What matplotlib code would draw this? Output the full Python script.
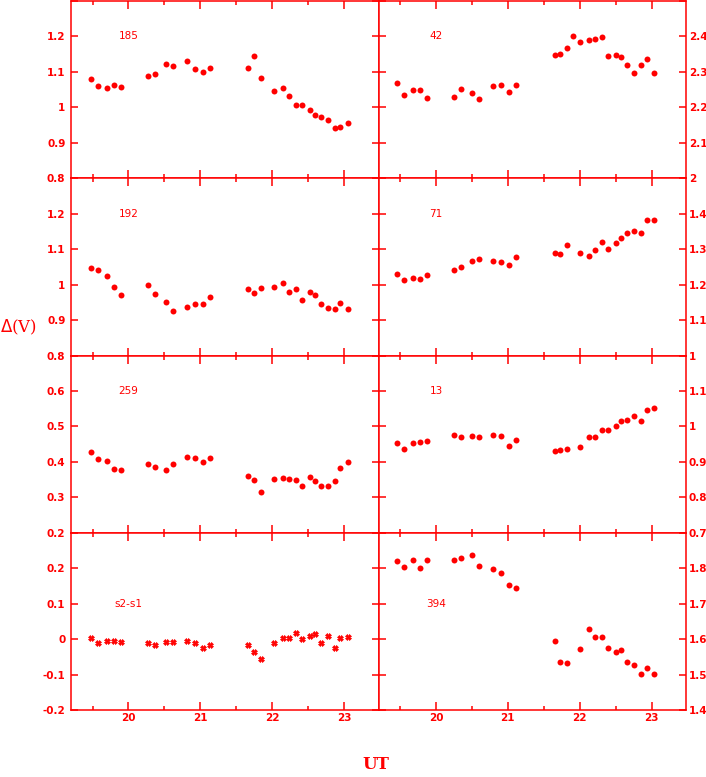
import numpy as np
import matplotlib
matplotlib.use('Agg')
import matplotlib.pyplot as plt
from matplotlib.ticker import MultipleLocator, FuncFormatter

RED = '#ff0000'

# observation times (UT hours)
t_left = [19.48, 19.58, 19.70, 19.80, 19.90, 20.27, 20.37, 20.52, 20.62, 20.82, 20.92, 21.03, 21.13,
          21.67, 21.75, 21.85, 22.03, 22.15, 22.23, 22.33, 22.42, 22.52, 22.60, 22.68, 22.78, 22.87,
          22.95, 23.05]
t_right = [19.46, 19.56, 19.68, 19.78, 19.88, 20.25, 20.35, 20.50, 20.60, 20.80, 20.90, 21.01, 21.11,
           21.65, 21.73, 21.82, 22.01, 22.13, 22.21, 22.31, 22.40, 22.50, 22.58, 22.66, 22.76, 22.85,
           22.93, 23.03]
t_42 = t_right[:16] + [21.91] + t_right[16:]
t_42 = sorted(t_42)

# star 185, 192, 259, s2-s1 (left column)
v185 = [1.081, 1.059, 1.056, 1.064, 1.058, 1.088, 1.095, 1.123, 1.117, 1.131, 1.108, 1.101, 1.110,
        1.112, 1.144, 1.082, 1.046, 1.056, 1.032, 1.006, 1.006, 0.992, 0.978, 0.973, 0.964, 0.943,
        0.945, 0.956]
v192 = [1.048, 1.042, 1.025, 0.993, 0.970, 0.999, 0.974, 0.950, 0.925, 0.937, 0.944, 0.946, 0.965,
        0.987, 0.976, 0.991, 0.992, 1.004, 0.980, 0.988, 0.957, 0.978, 0.971, 0.945, 0.934, 0.930,
        0.947, 0.931]
v259 = [0.428, 0.407, 0.403, 0.380, 0.378, 0.395, 0.385, 0.376, 0.395, 0.414, 0.412, 0.401, 0.410,
        0.359, 0.348, 0.315, 0.352, 0.354, 0.353, 0.349, 0.331, 0.357, 0.346, 0.331, 0.331, 0.346,
        0.383, 0.401]
vs2s1 = [0.002, -0.011, -0.006, -0.004, -0.009, -0.012, -0.016, -0.009, -0.007, -0.005, -0.012, -0.026,
         -0.017, -0.017, -0.036, -0.055, -0.010, 0.002, 0.004, 0.016, 0.001, 0.010, 0.014, -0.012,
         0.009, -0.026, 0.003, 0.005]

# star 42, 71, 13, 394 (right column)
v42 = [2.270, 2.234, 2.250, 2.249, 2.225, 2.229, 2.253, 2.240, 2.223, 2.261, 2.263, 2.242, 2.264,
       2.348, 2.351, 2.368, 2.402, 2.385, 2.390, 2.394, 2.399, 2.346, 2.347, 2.342, 2.319, 2.296,
       2.319, 2.336, 2.298]
v71 = [1.231, 1.212, 1.219, 1.215, 1.226, 1.241, 1.250, 1.268, 1.272, 1.266, 1.264, 1.255, 1.278,
       1.289, 1.287, 1.311, 1.288, 1.281, 1.298, 1.320, 1.301, 1.317, 1.332, 1.346, 1.351, 1.346,
       1.382, 1.383]
v13 = [0.954, 0.937, 0.953, 0.956, 0.959, 0.976, 0.970, 0.973, 0.970, 0.976, 0.973, 0.945, 0.963,
       0.931, 0.934, 0.937, 0.943, 0.969, 0.970, 0.990, 0.989, 1.000, 1.016, 1.017, 1.030, 1.014,
       1.046, 1.053]
v394 = [1.820, 1.803, 1.822, 1.800, 1.822, 1.822, 1.830, 1.836, 1.806, 1.797, 1.787, 1.754, 1.745,
        1.596, 1.535, 1.534, 1.572, 1.629, 1.606, 1.607, 1.576, 1.564, 1.570, 1.535, 1.528, 1.502,
        1.519, 1.501]

left_names = ['185', '192', '259', 's2-s1']
right_names = ['42', '71', '13', '394']
left_data = [(t_left, v185), (t_left, v192), (t_left, v259), (t_left, vs2s1)]
right_data = [(t_42, v42), (t_right, v71), (t_right, v13), (t_right, v394)]
left_ylim = [(0.8, 1.3), (0.8, 1.3), (0.2, 0.7), (-0.2, 0.3)]
right_ylim = [(2.0, 2.5), (1.0, 1.5), (0.7, 1.2), (1.4, 1.9)]
left_label_y = [1.2, 1.2, 0.6, 0.1]
right_label_y = [2.4, 1.4, 1.1, 1.7]

plt.rcParams['font.family'] = 'DejaVu Sans'
fig, axes = plt.subplots(4, 2, figsize=(7.06, 7.77), dpi=100)
fig.subplots_adjust(left=0.1006, right=0.9717, top=0.9987, bottom=0.0862, wspace=0, hspace=0)


def fmt(ylim):
    def f(v, pos):
        if v > ylim[1] - 0.05:
            return ''
        v = round(v, 2)
        if v == 0:
            v = 0.0
        return '%g' % v
    return f


for col, (names, data, ylims, laby) in enumerate([(left_names, left_data, left_ylim, left_label_y),
                                                   (right_names, right_data, right_ylim, right_label_y)]):
    for row in range(4):
        ax = axes[row, col]
        t, v = data[row]
        if names[row] == 's2-s1':
            ax.plot(t, v, 'X', color=RED, ms=4.2, mec=RED, mew=0.5)
        else:
            ax.plot(t, v, 'o', color=RED, ms=4.3, mec=RED, mew=0)
        ax.set_xlim(19.2, 23.48)
        ax.set_ylim(*ylims[row])
        ax.xaxis.set_major_locator(MultipleLocator(1))
        ax.xaxis.set_minor_locator(MultipleLocator(0.5))
        ax.yaxis.set_major_locator(MultipleLocator(0.1))
        ax.yaxis.set_major_formatter(FuncFormatter(fmt(ylims[row])))
        ax.tick_params(axis='both', which='both', direction='in', colors=RED, top=True, right=True,
                       width=1.1, labelsize=7.5)
        ax.tick_params(axis='x', which='major', length=6)
        ax.tick_params(axis='x', which='minor', length=3)
        ax.tick_params(axis='y', which='major', length=4.8)
        ax.tick_params(axis='x', labelbottom=(row == 3), pad=2)
        if col == 0:
            ax.tick_params(axis='y', labelleft=True, labelright=False, pad=4)
        else:
            ax.tick_params(axis='y', labelleft=False, labelright=True, pad=2)
        for lab in ax.get_xticklabels() + ax.get_yticklabels():
            lab.set_fontweight('bold')
        for s in ax.spines.values():
            s.set_color(RED)
            s.set_linewidth(1.1)
        ax.text(20.0, laby[row], names[row], color=RED, fontsize=7.5, ha='center', va='center')

fig.text(0.0255, 0.579, r'$\Delta$(V)', color=RED, fontsize=12, family='DejaVu Serif',
         ha='center', va='center')
fig.text(0.5326, 0.0155, 'UT', color=RED, fontsize=12, family='DejaVu Serif', fontweight='bold',
         ha='center', va='center')

plt.savefig('out.png', dpi=100)
